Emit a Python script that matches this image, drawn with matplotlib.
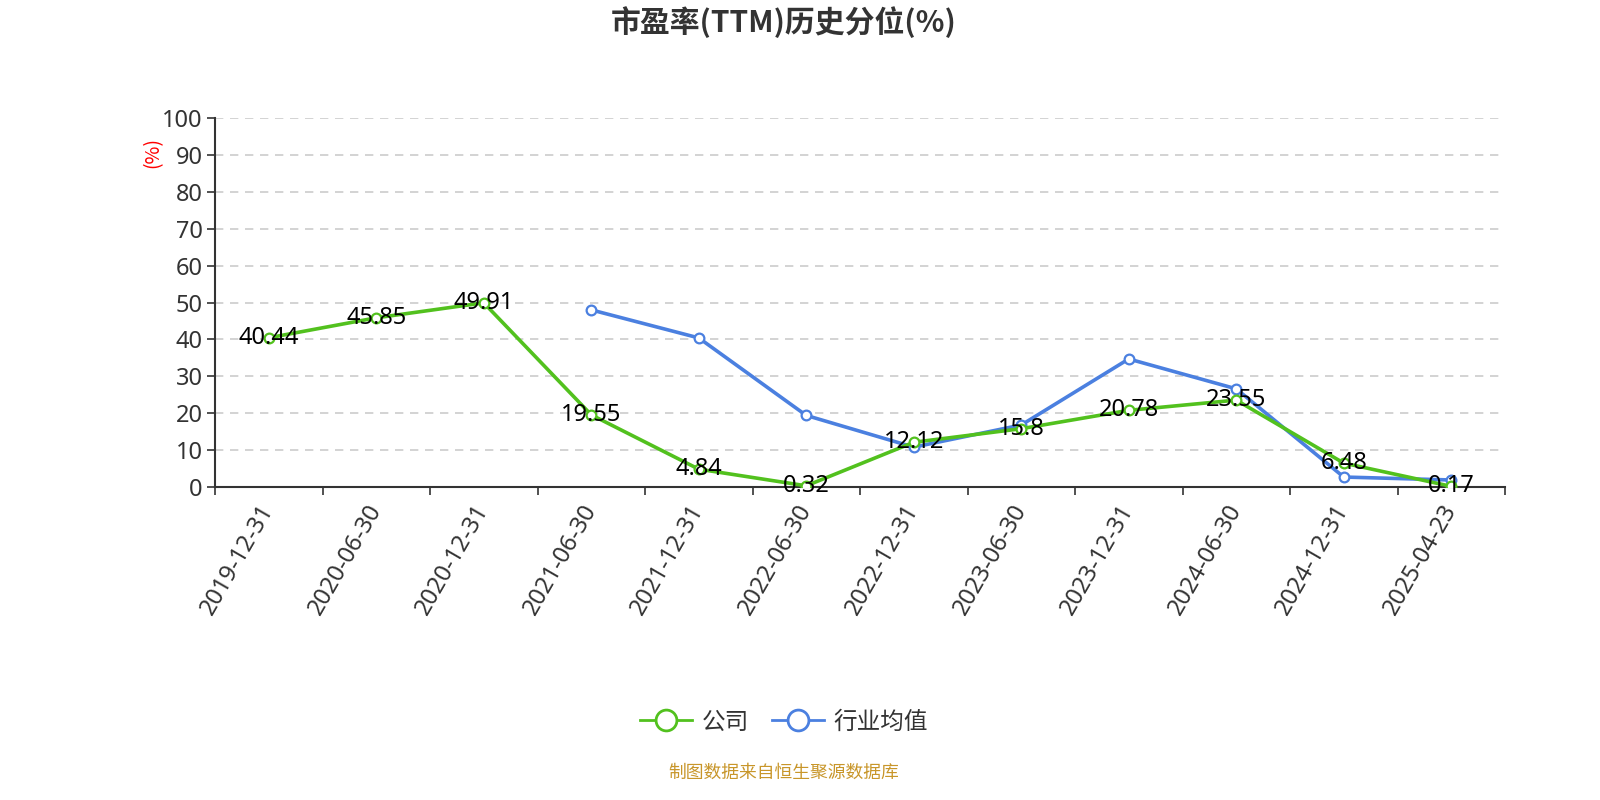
import matplotlib
matplotlib.use("Agg")
import matplotlib.pyplot as plt
import numpy as np
from matplotlib.lines import Line2D

plt.rcParams['font.family'] = ['Noto Sans CJK SC', 'DejaVu Sans']

categories = ["2019-12-31", "2020-06-30", "2020-12-31", "2021-06-30", "2021-12-31",
              "2022-06-30", "2022-12-31", "2023-06-30", "2023-12-31", "2024-06-30",
              "2024-12-31", "2025-04-23"]
company = [40.44, 45.85, 49.91, 19.55, 4.84, 0.32, 12.12, 15.8, 20.78, 23.55, 6.48, 0.17]
company_labels = ["40.44", "45.85", "49.91", "19.55", "4.84", "0.32", "12.12", "15.8",
                  "20.78", "23.55", "6.48", "0.17"]
industry = [None, None, None, 48.0, 40.4, 19.4, 10.8, 16.8, 34.7, 26.6, 2.7, 1.9]
yticks = [0, 10, 20, 30, 40, 50, 60, 70, 80, 90, 100]

green = '#52c11e'
blue = '#4b80e0'
dark = '#333333'
numfont = ['Noto Sans', 'DejaVu Sans']

fig = plt.figure(figsize=(16, 8), dpi=100)
ax = fig.add_axes([0.134375, 0.39125, 0.80625, 0.46125])

x = np.arange(len(categories))
ind = np.array([np.nan if v is None else v for v in industry], dtype=float)

ax.plot(x, ind, color=blue, lw=2.6, marker='o', ms=7, mfc='white', mec=blue, mew=1.6,
        zorder=3)
ax.plot(x, company, color=green, lw=2.6, marker='o', ms=7, mfc='white', mec=green, mew=1.6,
        zorder=4)

for xi, v, t in zip(x, company, company_labels):
    ax.text(xi, v, t, ha='center', va='center', fontsize=17, color='black', zorder=6,
            family=numfont)

ax.set_xlim(-0.5, len(categories) - 0.5)
ax.set_ylim(0, 100)
ax.set_yticks(yticks)
ax.set_yticklabels([str(v) for v in yticks], fontsize=17, color=dark, family=numfont)
ax.set_xticks(np.arange(len(categories) + 1) - 0.5)
ax.set_xticklabels([])
ax.set_xticks(x, minor=True)
ax.set_xticklabels(categories, minor=True, rotation=60, ha='right', va='center',
                   rotation_mode='anchor', fontsize=17, color=dark, family=numfont)
ax.tick_params(axis='x', which='minor', length=0, pad=14)
ax.tick_params(axis='x', which='major', length=6, width=1.2, color=dark)
ax.tick_params(axis='y', length=6, width=1.2, color=dark, pad=3)

for v in yticks[1:]:
    ax.axhline(v, color='#cccccc', lw=1.2, ls=(0, (5, 4)), zorder=1)

for s in ['top', 'right']:
    ax.spines[s].set_visible(False)
for s in ['left', 'bottom']:
    ax.spines[s].set_color(dark)
    ax.spines[s].set_linewidth(1.5)

fig.text(0.0955, 0.81, '(%)', rotation=90, color='red', fontsize=14, ha='center', va='center')

fig.text(0.49, 0.9725, '市盈率(TTM)历史分位(%)', ha='center', va='center', fontsize=21.5,
         fontweight='bold', color=dark)

h2 = [Line2D([0], [0], color=green, lw=2, marker='o', ms=15, mfc='white', mec=green, mew=2),
      Line2D([0], [0], color=blue, lw=2, marker='o', ms=15, mfc='white', mec=blue, mew=2)]
leg = fig.legend(h2, ['公司', '行业均值'], loc='center', bbox_to_anchor=(0.49, 0.0975),
                 ncol=2, frameon=False, fontsize=17, handlelength=2.2, columnspacing=1.0,
                 handletextpad=0.4)
for t in leg.get_texts():
    t.set_color(dark)

fig.text(0.49, 0.034, '制图数据来自恒生聚源数据库', ha='center', va='center', fontsize=12.8,
         color='#c8962a')

fig.savefig('out.png', dpi=100)
